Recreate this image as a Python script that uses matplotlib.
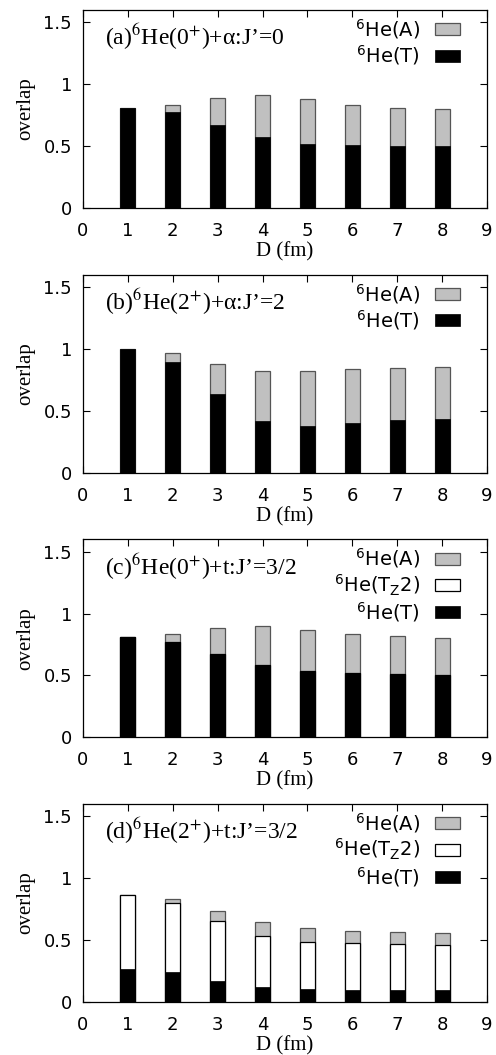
import matplotlib
matplotlib.use("Agg")
import matplotlib.pyplot as plt
from matplotlib.font_manager import FontProperties

# distances D (fm)
D = [1, 2, 3, 4, 5, 6, 7, 8]

# (a) 6He(0+)+alpha J'=0
a_A = [0.81, 0.833, 0.892, 0.917, 0.882, 0.836, 0.809, 0.801]
a_T = [0.81, 0.772, 0.672, 0.570, 0.519, 0.511, 0.505, 0.503]

# (b) 6He(2+)+alpha J'=2
b_A = [1.0, 0.965, 0.879, 0.822, 0.819, 0.836, 0.846, 0.857]
b_T = [1.0, 0.898, 0.636, 0.418, 0.377, 0.402, 0.426, 0.434]

# (c) 6He(0+)+t J'=3/2
c_A = [0.811, 0.836, 0.881, 0.903, 0.871, 0.838, 0.817, 0.801]
c_Tz2 = [0.811, 0.774, 0.674, 0.585, 0.539, 0.523, 0.512, 0.504]
c_T = [0.811, 0.774, 0.674, 0.585, 0.539, 0.523, 0.512, 0.504]

# (d) 6He(2+)+t J'=3/2
d_A = [0.868, 0.833, 0.733, 0.644, 0.598, 0.577, 0.563, 0.558]
d_Tz2 = [0.868, 0.798, 0.652, 0.536, 0.488, 0.474, 0.469, 0.464]
d_T = [0.264, 0.243, 0.170, 0.121, 0.105, 0.097, 0.097, 0.094]

titles = ["(a)$^{6}$He(0$^{+}$)+\u03b1:J\u2019=0",
          "(b)$^{6}$He(2$^{+}$)+\u03b1:J\u2019=2",
          "(c)$^{6}$He(0$^{+}$)+t:J\u2019=3/2",
          "(d)$^{6}$He(2$^{+}$)+t:J\u2019=3/2"]

lab_A = "$^{6}$He(A)"
lab_Tz2 = "$^{6}$He(T$_{\\mathrm{Z}}$2)"
lab_T = "$^{6}$He(T)"

W, H = 496, 1055
fig = plt.figure(figsize=(W / 100, H / 100), dpi=100)

panels = [
    (a_A, None, a_T),
    (b_A, None, b_T),
    (c_A, c_Tz2, c_T),
    (d_A, d_Tz2, d_T),
]
bottoms = [847, 582.3, 317.7, 53]

serif = "Liberation Serif"
sans = "DejaVu Sans"
bw = 0.33

for k in range(4):
    A, Tz2, T = panels[k]
    ax = fig.add_axes([83 / W, bottoms[k] / H, 404 / W, 198 / H])
    hA = ax.bar(D, A, width=bw, color="#c0c0c0", edgecolor="#555555", linewidth=0.9, label=lab_A)
    handles = [hA]
    if Tz2 is not None:
        hZ = ax.bar(D, Tz2, width=bw, color="white", edgecolor="black", linewidth=0.9, label=lab_Tz2)
        handles.append(hZ)
    hT = ax.bar(D, T, width=bw, color="black", edgecolor="black", linewidth=0.5, label=lab_T)
    handles.append(hT)

    ax.set_xlim(0, 9)
    ax.set_ylim(0, 1.6)
    ax.set_xticks(range(0, 10))
    ax.set_yticks([0, 0.5, 1, 1.5])
    ax.set_yticklabels(["0", "0.5", "1", "1.5"])
    ax.tick_params(direction="in", top=True, right=True, length=5, width=0.8,
                   labelsize=13, pad=8)
    ax.tick_params(axis="x", pad=10)
    for lbl in ax.get_xticklabels() + ax.get_yticklabels():
        lbl.set_family(sans)
    for s in ax.spines.values():
        s.set_linewidth(0.9)

    ax.set_xlabel("D (fm)", family=serif, fontsize=15, labelpad=1.5)
    ax.set_ylabel("overlap", family=serif, fontsize=15, labelpad=6)

    ax.text(0.055, 0.862, titles[k], transform=ax.transAxes, family=serif,
            fontsize=17, math_fontfamily="stix", va="center", ha="left")

    prop = FontProperties(family=sans, size=14, math_fontfamily="dejavusans")
    ax.legend(handles=handles, prop=prop, markerfirst=False, frameon=False,
              loc="upper right", bbox_to_anchor=(1 - 27 / 404, 1 - 7 / 198),
              handlelength=1.29, handleheight=0.57,
              labelspacing=0.12, handletextpad=0.77, borderaxespad=0,
              borderpad=0)

fig.savefig("out.png", dpi=100)
